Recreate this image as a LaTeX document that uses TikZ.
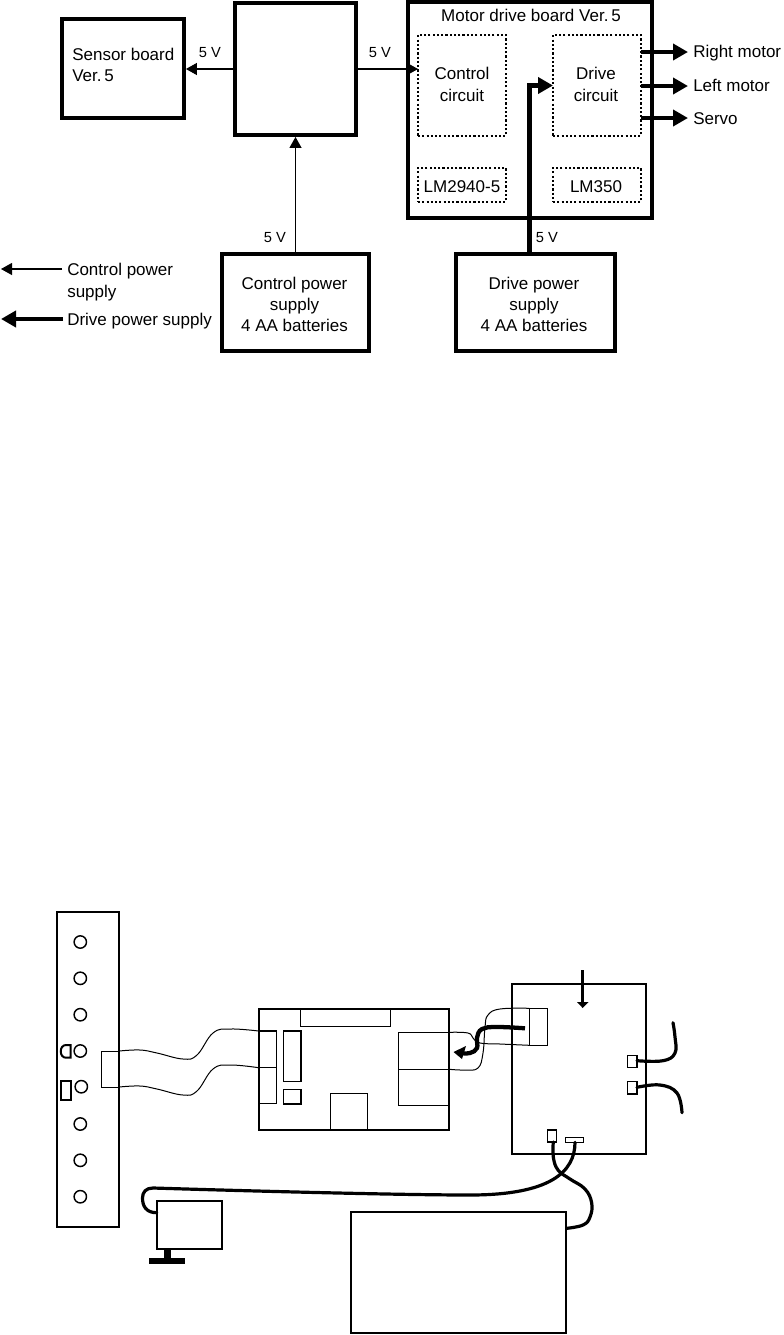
\documentclass[tikz,border=0pt]{standalone}
\usepackage{fontspec}
\setmainfont{Liberation Sans}
\usetikzlibrary{arrows.meta,fit}
\tikzset{
  x=0.75pt,y=-0.75pt,
  box/.style={draw,line width=2.9pt,inner sep=0pt,outer sep=.5\pgflinewidth,fill=none},
  dotbox/.style={draw,line width=1.7pt,dash pattern=on 1.6pt off 1.6pt,inner sep=0pt,outer sep=0pt},
  part/.style={draw,line width=1.5pt,inner sep=0pt,outer sep=0pt},
  fine/.style={draw,line width=1pt,inner sep=0pt,outer sep=0pt},
  txt/.style={font=\fontsize{12.75}{16}\selectfont,inner sep=0pt,align=center},
  small/.style={font=\fontsize{11}{14}\selectfont,inner sep=0pt},
  thinarrow/.style={line width=0.8pt,-{Triangle[length=8.25pt,width=9pt]}},
  thickarrow/.style={line width=3.6pt,-{Triangle[length=11.25pt,width=12pt]}},
  wire/.style={line width=0.75pt,smooth,tension=0.7},
  cable/.style={line width=2.4pt,smooth,tension=0.7,line cap=round},
}
\begin{document}
\begin{tikzpicture}
\useasboundingbox (0,0) rectangle (783,1335);
% --- block diagram
\node[box,fit={(62,19)(184,118)}] (sensor) {};
\node[box,fit={(235,3)(356,135)}] (ctr) {};
\node[box,fit={(408,2)(652,218)}] (motor) {};
\node[box,fit={(222,254)(369,351)}] (cps) {};
\node[box,fit={(456,254)(615,351)}] (dps) {};
\node[dotbox,fit={(418,35)(506,136)}] (ccir) {};
\node[dotbox,fit={(553,35)(641,136)}] (dcir) {};
\node[dotbox,fit={(418,168)(506,202)}] (lma) {};
\node[dotbox,fit={(553,168)(641,202)}] (lmb) {};
\node[txt,anchor=west,align=left] (sensort) at (72,65) {Sensor board\\Ver.\,5};
\node[txt] (motort) at (531,15) {Motor drive board Ver.\,5};
\node[txt] (ccirt) at (462,84.5) {Control\\circuit};
\node[txt] (dcirt) at (596,84.5) {Drive\\circuit};
\node[txt] (lmat) at (462,187) {LM2940-5};
\node[txt] (lmbt) at (596,187) {LM350};
\node[txt] (cpst) at (294.5,304.5) {Control power\\supply\\4 AA batteries};
\node[txt] (dpst) at (534,304.5) {Drive power\\supply\\4 AA batteries};
\node[small] (va) at (210,53) {5 V};
\node[small] (vb) at (380,53) {5 V};
\node[small] (vc) at (275,237.5) {5 V};
\node[small] (vd) at (547,237.5) {5 V};
\coordinate (rmc) at (688,52);
\coordinate (lmc) at (688,86);
\coordinate (svc) at (688,118);
\node[txt,anchor=west] (rm) at (693,53) {Right motor};
\node[txt,anchor=west] (lm) at (693,85.5) {Left motor};
\node[txt,anchor=west] (sv) at (693,119) {Servo};
\node[txt,anchor=west,align=left] (legA) at (67,282) {Control power\\supply};
\node[txt,anchor=west] (legB) at (67,321) {Drive power supply};
\coordinate (legAr) at (62,269);
\coordinate (legAl) at (1,269);
\coordinate (legBr) at (63,319);
\coordinate (legBl) at (1,319);
\coordinate (dpsout) at (529.5,253);
\draw[thinarrow] (ctr.west) -- (sensor.east |- ctr.west);
\draw[thinarrow] (ctr.east) -- (ccir.west |- ctr.east);
\draw[thinarrow] (cps.north) -- (ctr.south);
\draw[thickarrow] (dpsout) |- (dcir.west);
\draw[thickarrow] (dcir.east |- rmc) -- (rmc);
\draw[thickarrow] (dcir.east |- lmc) -- (lmc);
\draw[thickarrow] (dcir.east |- svc) -- (svc);
\draw[thinarrow] (legAr) -- (legAl);
\draw[thickarrow] (legBr) -- (legBl);
% --- wiring sketch: sensor bar
\node[part,fit={(56.7,911.7)(119.3,1227)}] (bar) {};
\foreach \n/\cx/\cy in {a/80.3/942,b/80.3/978.3,c/80.3/1014.7,d/80.3/1051,e/81.3/1086.7,f/80.3/1124,g/80.3/1160.3,h/80.3/1196.7}
  \node[draw,circle,line width=1.1pt,minimum size=9.3pt,inner sep=0pt] (c\n) at (\cx,\cy) {};
\draw[line width=1.5pt] (70.7,1045) -- (66,1045) .. controls (59,1045) and (59,1057.7) .. (66,1057.7) -- (70.7,1057.7) -- cycle;
\node[part,fit={(61,1081)(70.5,1100)}] (sw) {};
\node[fine,fit={(101.3,1051.7)(119.3,1087.7)}] (flat) {};
% main board
\node[part,fit={(258.7,1008.7)(449.3,1130)}] (board) {};
\node[fine,fit={(300.7,1008.7)(390.3,1026.3)}] (bt) {};
\node[fine,fit={(258.7,1031)(276.3,1067.7)}] (bl1) {};
\node[fine,fit={(258.7,1067.7)(276.3,1103.7)}] (bl2) {};
\node[fine,fit={(283.3,1031)(301,1081.3)}] (bm1) {};
\node[fine,fit={(283.3,1089.7)(301,1104)}] (bm2) {};
\node[fine,fit={(330.7,1093.3)(367.3,1130)}] (bb) {};
\node[fine,fit={(398.3,1032.7)(449.3,1069.3)}] (br1) {};
\node[fine,fit={(398.3,1069.3)(449.3,1105.3)}] (br2) {};
% flat cables left
\draw[wire] plot coordinates {(119.3,1051)(140,1050)(157,1053)(183,1059)(197,1055)(213,1033)(230,1029)(258.7,1031)};
\draw[wire] plot coordinates {(119.3,1087)(140,1086)(157,1089)(183,1095)(197,1091)(213,1069)(230,1065)(258.7,1067.7)};
% drive board
\node[part,fit={(511.7,984)(646,1154)}] (drv) {};
\node[fine,fit={(529.3,1008.3)(547.7,1045.3)}] (dc) {};
\node[fine,fit={(627.3,1055.3)(637,1067.7)}] (dr1) {};
\node[fine,fit={(627.3,1081.3)(637,1094)}] (dr2) {};
\node[fine,fit={(547.3,1130)(556.3,1142)}] (db1) {};
\node[fine,fit={(565.3,1137.7)(583.3,1142.3)}] (db2) {};
\draw[wire] plot coordinates {(529.3,1008.3)(500,1009)(488,1015)(485,1027)(483,1053)(478,1068)(465,1070)(449.3,1069.3)};
\draw[wire] plot coordinates {(529.3,1045.3)(500,1044)(480,1043)(473,1038)(468,1033)(449.3,1032.3)};
% flow arrows
\draw[line width=3.2pt,smooth,tension=0.7] plot coordinates {(525,1028.3)(497,1027)(482,1029)(477,1038)(477,1048)(470,1053)(460,1053)};
\fill (453.5,1052) -- (466,1046) -- (462,1059) -- cycle;
\draw[line width=1.9pt] (582.7,970) -- (582.7,1002);
\fill (577,1002) -- (588.5,1002) -- (582.7,1008) -- cycle;
% cables
\draw[cable] plot coordinates {(637,1060.7)(663,1060.7)(675,1053)(675,1037)(673,1022.7)};
\draw[cable] plot coordinates {(637,1087.3)(660,1085)(677,1093)(682,1112.7)};
\draw[cable] plot coordinates {(553.3,1142)(553.3,1157)(558,1170)(570,1179)(585,1189)(591.7,1203)(590,1217)(583,1225)(566.7,1228.3)};
\draw[cable] (575,1142.3) .. controls (575,1172) and (550,1195) .. (470,1195) .. controls (400,1195) and (250,1191) .. (153,1188) .. controls (146,1188) and (142.5,1192) .. (142.5,1198) .. controls (142.5,1206) and (146,1212.7) .. (156.7,1212.7);
% monitor and PC
\node[part,line width=1.6pt,fit={(157.3,1200.7)(222.3,1249)}] (mon) {};
\fill (164,1249) rectangle (170.7,1258);
\fill (149,1258) rectangle (185.3,1264.3);
\node[part,line width=1.6pt,fit={(351,1211.7)(565.7,1333.3)}] (pc) {};
\end{tikzpicture}
\end{document}
